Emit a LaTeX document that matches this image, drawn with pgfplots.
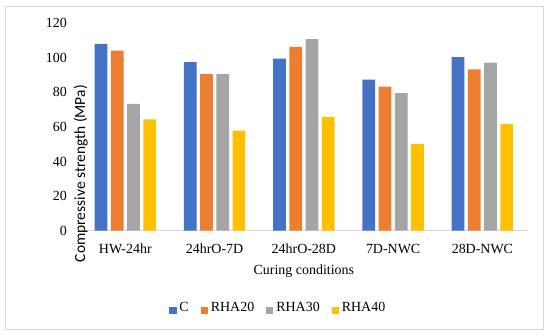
\documentclass[border=0pt]{standalone}
\usepackage{fontspec}
\setmainfont{Liberation Serif}
\newfontfamily\calibri{Carlito}
\usepackage{pgfplots}
\usepackage{pgfplotstable}
\pgfplotsset{compat=1.18}
\definecolor{cC}{HTML}{4472C4}
\definecolor{cR20}{HTML}{ED7D31}
\definecolor{cR30}{HTML}{A5A5A5}
\definecolor{cR40}{HTML}{FFC000}
\definecolor{lineg}{HTML}{D9D9D9}
\pgfplotstableread{
x C R20 R30 R40
0 108.1 104.2 73.4 64.3
1 97.5 90.6 90.6 57.8
2 99.6 106.3 110.9 65.6
3 87.4 83.4 79.6 50.2
4 100.4 93.3 97.3 61.8
}\data
\begin{document}
\begin{tikzpicture}[x=1bp,y=1bp]
\path[use as bounding box] (0,0) rectangle (550,-335);
\draw[lineg, line width=0.8bp] (5,-6) rectangle (543,-329);
\begin{axis}[
  at={(80.7bp,-230.5bp)}, anchor=south west,
  scale only axis, width=446.3bp, height=207.2bp,
  font=\fontsize{14}{16}\selectfont,
  /pgf/number format/assume math mode=true,
  xmin=-0.5, xmax=4.5, ymin=0, ymax=120,
  enlargelimits=false,
  xtick={0,...,4},
  xticklabels={HW-24hr,24hrO-7D,24hrO-28D,7D-NWC,28D-NWC},
  ytick={0,20,...,120},
  ybar=3.5bp, bar width=12.7bp,
  axis x line*=bottom, axis y line*=left,
  x axis line style={draw=lineg, line width=1bp, -},
  y axis line style={draw=none, -},
  major tick length=0pt, tick style={draw=none},
  yticklabel style={anchor=east, inner sep=0pt, xshift=-13.7bp},
  xticklabel style={anchor=base, inner sep=0pt, yshift=-22.8bp},
  xlabel={Curing conditions},
  xlabel style={at={(axis description cs:0.5,0)}, anchor=base, inner sep=0pt, yshift=-43.8bp},
  ylabel={\calibri\fontsize{15.5}{18}\selectfont Compressive strength (MPa)},
  ylabel style={at={(axis description cs:0,0.4900)}, anchor=center, inner sep=0pt, xshift=-44.7bp},
  legend columns=-1,
  legend style={at={(axis description cs:0.442,-0.374)}, anchor=center, draw=none, fill=none,
    inner sep=0pt, font=\fontsize{14}{16}\selectfont,
    nodes={inner sep=1.4bp},
    /tikz/every even column/.append style={column sep=10.5bp}},
  sq/.style={legend image code/.code={\path[##1,draw=none] (0bp,-6.4bp) rectangle (7.3bp,0.9bp);\path (8.8bp,0bp);}},
]
\addplot[fill=cC, draw=none, sq] table[x=x,y=C]{\data};
\addlegendentry{C}
\addplot[fill=cR20, draw=none, sq] table[x=x,y=R20]{\data};
\addlegendentry{RHA20}
\addplot[fill=cR30, draw=none, sq] table[x=x,y=R30]{\data};
\addlegendentry{RHA30}
\addplot[fill=cR40, draw=none, sq] table[x=x,y=R40]{\data};
\addlegendentry{RHA40}
\end{axis}
\end{tikzpicture}
\end{document}
